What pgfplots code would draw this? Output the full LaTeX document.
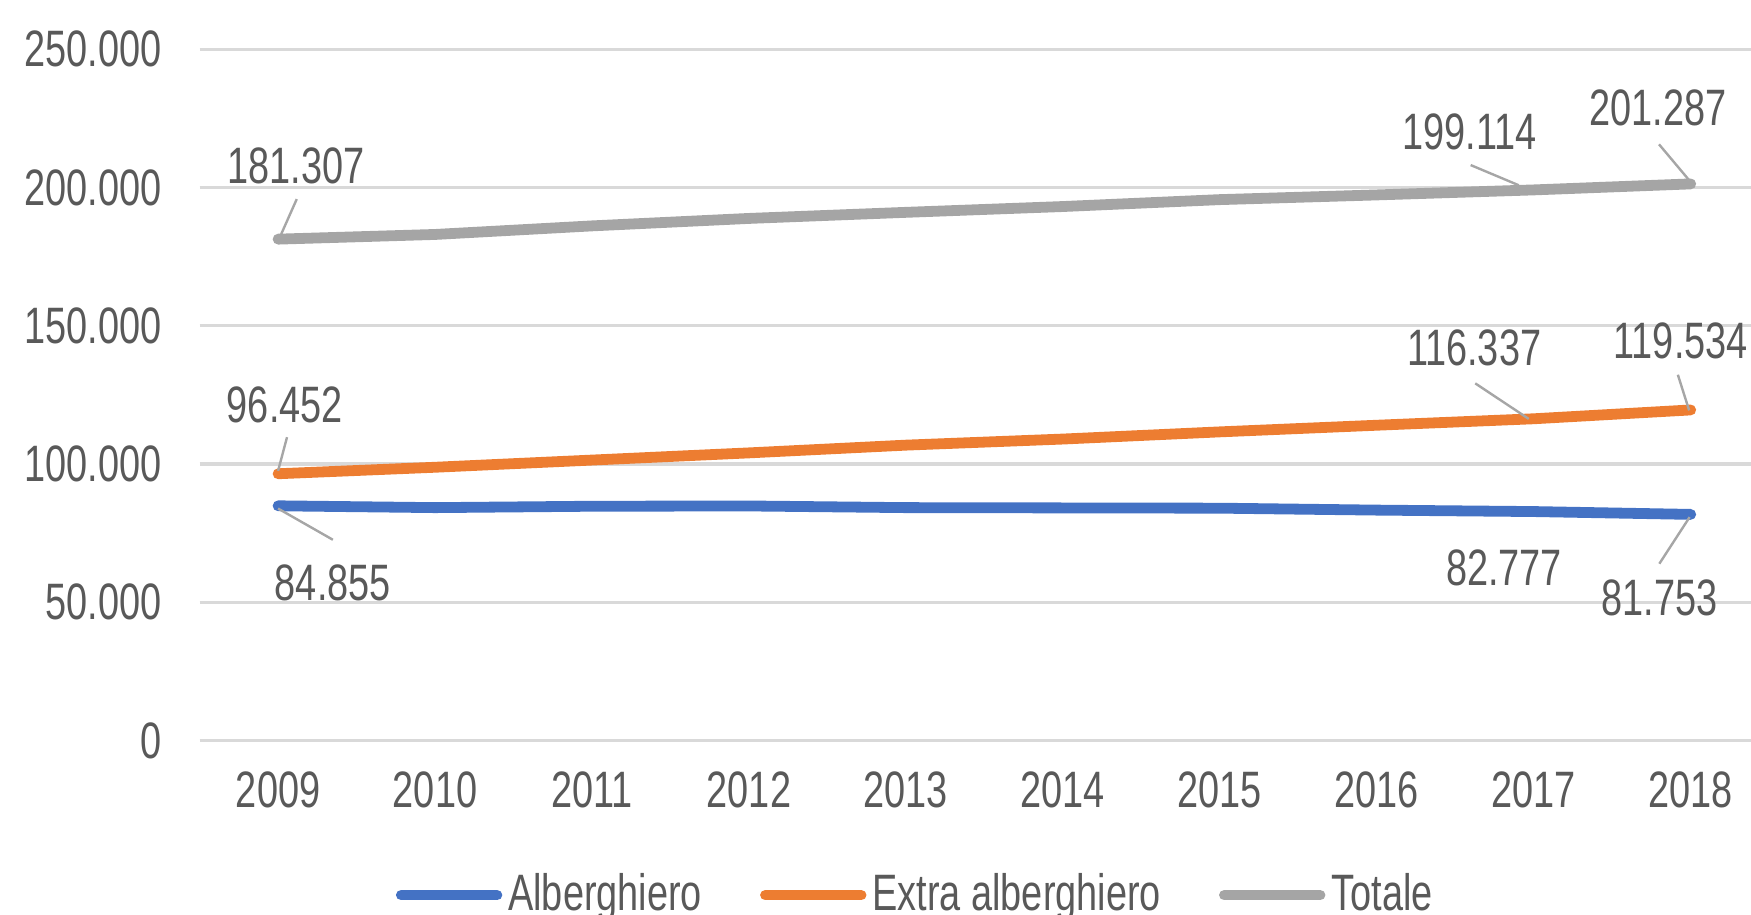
\documentclass[border=0pt]{standalone}
\usepackage{fontspec}
\setmainfont[FakeStretch=0.74]{Liberation Sans}
\usepackage{pgfplots}
\pgfplotsset{compat=1.18}
\definecolor{cblue}{HTML}{4472C4}
\definecolor{corange}{HTML}{ED7D31}
\definecolor{cgray}{HTML}{A5A5A5}
\definecolor{gridgray}{HTML}{D9D9D9}
\definecolor{tgray}{HTML}{595959}
\definecolor{leadgray}{HTML}{A6A6A6}
\begin{document}
\begin{tikzpicture}[font=\fontsize{12.8}{15.4}\selectfont]
\begin{axis}[
  at={(0,0)}, anchor=south west,
  scale only axis, width=392.4pt, height=172.8pt,
  xmin=-0.5, xmax=9.5, ymin=0, ymax=250000,
  clip=false,
  axis line style={draw=none},
  tick style={draw=none},
  major tick length=0pt,
  ymajorgrids,
  grid style={color=gridgray, line width=0.8pt},
  xtick={0,1,2,3,4,5,6,7,8,9},
  xticklabels={2009,2010,2011,2012,2013,2014,2015,2016,2017,2018},
  ytick={0,50000,100000,150000,200000,250000},
  scaled y ticks=false,
  /pgf/number format/.cd, fixed, 1000 sep={.}, assume math mode=true,
  /pgfplots/.cd,
  tick label style={font=\fontsize{12.8}{15.4}\selectfont, text=tgray},
  yticklabel style={xshift=-6pt},
  xticklabel style={yshift=-4.25pt},
  legend columns=-1,
  legend style={at={(0.4572,0)}, anchor=center, yshift=-38.7pt,
    draw=none, fill=none, inner sep=0pt,
    font=\fontsize{12.8}{15.4}\selectfont, text=tgray,
    nodes={inner sep=1.5pt},
    /tikz/every even column/.append style={column sep=13pt}},
  legend image code/.code={\draw[#1, line width=2.6pt, line cap=round] (0pt,0pt) -- (24pt,0pt);},
]
\addplot[cblue, line width=2.7pt, line cap=round, line join=round, mark=none] coordinates {
 (0,84855) (1,84200) (2,84700) (3,84800) (4,84200) (5,84100) (6,84000) (7,83300) (8,82777) (9,81753)};
\addplot[corange, line width=2.7pt, line cap=round, line join=round, mark=none] coordinates {
 (0,96452) (1,98800) (2,101400) (3,104000) (4,106800) (5,109000) (6,111600) (7,114000) (8,116337) (9,119534)};
\addplot[cgray, line width=2.7pt, line cap=round, line join=round, mark=none] coordinates {
 (0,181307) (1,183000) (2,186100) (3,188800) (4,191000) (5,193100) (6,195600) (7,197300) (8,199114) (9,201287)};
\legend{Alberghiero, Extra alberghiero, Totale}
% leader lines
\draw[leadgray, line width=0.6pt] (axis cs:0.119,195790) -- (axis cs:0.02,183130);
\draw[leadgray, line width=0.6pt] (axis cs:7.598,208100) -- (axis cs:7.904,200800);
\draw[leadgray, line width=0.6pt] (axis cs:8.798,215600) -- (axis cs:8.993,202420);
\draw[leadgray, line width=0.6pt] (axis cs:0.057,109680) -- (axis cs:0.0,97500);
\draw[leadgray, line width=0.6pt] (axis cs:7.627,129150) -- (axis cs:7.968,116290);
\draw[leadgray, line width=0.6pt] (axis cs:8.918,132260) -- (axis cs:8.99,119360);
\draw[leadgray, line width=0.6pt] (axis cs:0.0,83870) -- (axis cs:0.349,72580);
\draw[leadgray, line width=0.6pt] (axis cs:8.993,80770) -- (axis cs:8.80,63910);
% data labels
\tikzset{lbl/.style={text=tgray, inner sep=0pt, font=\fontsize{12.8}{15.4}\selectfont}}
\node[lbl] at (axis cs:0.114,207660) {181.307};
\node[lbl] at (axis cs:7.590,220160) {199.114};
\node[lbl] at (axis cs:8.793,228630) {201.287};
\node[lbl] at (axis cs:0.043,121370) {96.452};
\node[lbl] at (axis cs:7.620,141940) {116.337};
\node[lbl] at (axis cs:8.936,144350) {119.534};
\node[lbl] at (axis cs:0.349,56850) {84.855};
\node[lbl] at (axis cs:7.811,62500) {82.777};
\node[lbl] at (axis cs:8.800,51610) {81.753};
\end{axis}
\pgfresetboundingbox
\useasboundingbox (-49.9pt,-43.4pt) rectangle (387.85pt,185.1pt);
\end{tikzpicture}
\end{document}
